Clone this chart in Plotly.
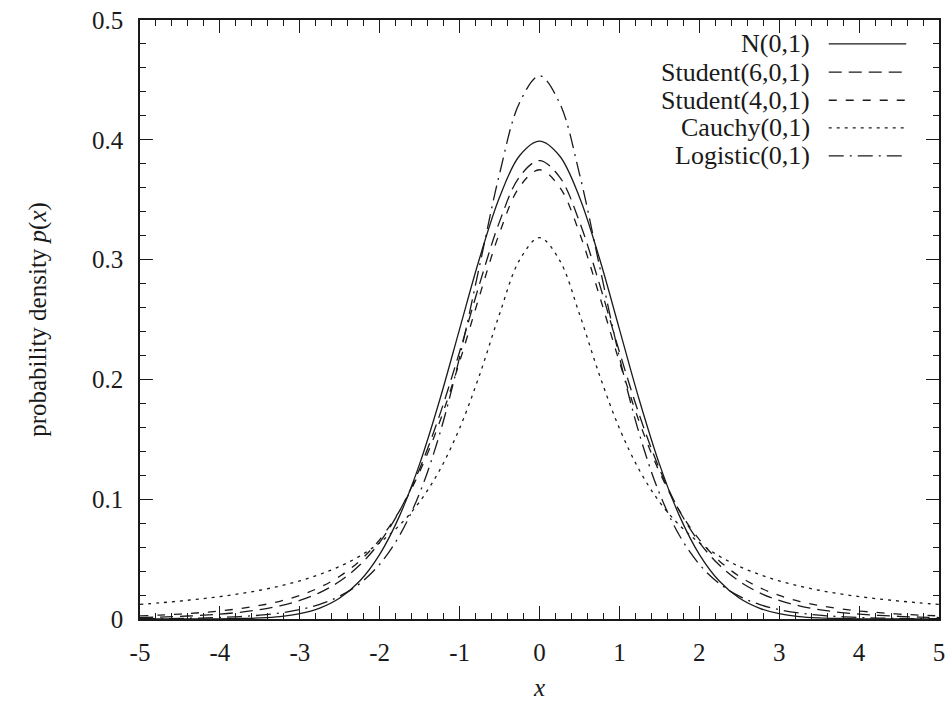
import plotly.graph_objects as go

x = [-5.0, -4.75, -4.5, -4.25, -4.0, -3.75, -3.5, -3.25, -3.0, -2.75, -2.5, -2.25, -2.0, -1.75, -1.5, -1.25, -1.0, -0.75, -0.5, -0.25,
     0.0, 0.25, 0.5, 0.75, 1.0, 1.25, 1.5, 1.75, 2.0, 2.25, 2.5, 2.75, 3.0, 3.25, 3.5, 3.75, 4.0, 4.25, 4.5, 4.75, 5.0]

normal = [0.0000, 0.0000, 0.0000, 0.0001, 0.0001, 0.0004, 0.0009, 0.0020, 0.0044, 0.0091, 0.0175, 0.0317, 0.0540, 0.0863, 0.1295, 0.1826, 0.2420, 0.3011, 0.3521, 0.3867,
          0.3989, 0.3867, 0.3521, 0.3011, 0.2420, 0.1826, 0.1295, 0.0863, 0.0540, 0.0317, 0.0175, 0.0091, 0.0044, 0.0020, 0.0009, 0.0004, 0.0001, 0.0001, 0.0000, 0.0000, 0.0000]

student6 = [0.0012, 0.0016, 0.0022, 0.0030, 0.0041, 0.0056, 0.0078, 0.0110, 0.0155, 0.0220, 0.0315, 0.0450, 0.0640, 0.0904, 0.1255, 0.1702, 0.2231, 0.2797, 0.3317, 0.3691,
            0.3827, 0.3691, 0.3317, 0.2797, 0.2231, 0.1702, 0.1255, 0.0904, 0.0640, 0.0450, 0.0315, 0.0220, 0.0155, 0.0110, 0.0078, 0.0056, 0.0041, 0.0030, 0.0022, 0.0016, 0.0012]

student4 = [0.0026, 0.0033, 0.0041, 0.0053, 0.0067, 0.0087, 0.0113, 0.0148, 0.0197, 0.0264, 0.0357, 0.0485, 0.0663, 0.0905, 0.1229, 0.1644, 0.2147, 0.2699, 0.3223, 0.3607,
            0.3750, 0.3607, 0.3223, 0.2699, 0.2147, 0.1644, 0.1229, 0.0905, 0.0663, 0.0485, 0.0357, 0.0264, 0.0197, 0.0148, 0.0113, 0.0087, 0.0067, 0.0053, 0.0041, 0.0033, 0.0026]

cauchy = [0.0122, 0.0135, 0.0150, 0.0167, 0.0187, 0.0211, 0.0240, 0.0275, 0.0318, 0.0372, 0.0439, 0.0525, 0.0637, 0.0784, 0.0979, 0.1242, 0.1592, 0.2037, 0.2546, 0.2996,
          0.3183, 0.2996, 0.2546, 0.2037, 0.1592, 0.1242, 0.0979, 0.0784, 0.0637, 0.0525, 0.0439, 0.0372, 0.0318, 0.0275, 0.0240, 0.0211, 0.0187, 0.0167, 0.0150, 0.0135, 0.0122]

logistic = [0.0002, 0.0003, 0.0005, 0.0008, 0.0013, 0.0020, 0.0032, 0.0050, 0.0078, 0.0122, 0.0191, 0.0296, 0.0457, 0.0699, 0.1051, 0.1543, 0.2186, 0.2949, 0.3716, 0.4309,
            0.4534, 0.4309, 0.3716, 0.2949, 0.2186, 0.1543, 0.1051, 0.0699, 0.0457, 0.0296, 0.0191, 0.0122, 0.0078, 0.0050, 0.0032, 0.0020, 0.0013, 0.0008, 0.0005, 0.0003, 0.0002]

series_names = ["N(0,1)", "Student(6,0,1)", "Student(4,0,1)", "Cauchy(0,1)", "Logistic(0,1)"]
series_values = [normal, student6, student4, cauchy, logistic]

x_tick_vals = [-5, -4, -3, -2, -1, 0, 1, 2, 3, 4, 5]
x_tick_text = ["-5", "-4", "-3", "-2", "-1", "0", "1", "2", "3", "4", "5"]
y_tick_vals = [0, 0.1, 0.2, 0.3, 0.4, 0.5]
y_tick_text = ["0", "0.1", "0.2", "0.3", "0.4", "0.5"]

dashes = ["solid", "13px,7px", "8px,9px", "3px,5px", "15px,6px,2px,6px"]
INK = "#1a1a1a"
FONT = "Liberation Serif, Times New Roman, serif"

fig = go.Figure()
for name, vals, d in zip(series_names, series_values, dashes):
    fig.add_trace(go.Scatter(x=x, y=vals, mode="lines", name=name,
                             line=dict(color=INK, width=1.3, dash=d, shape="spline", smoothing=1.0),
                             showlegend=False, hoverinfo="skip"))

# legend drawn manually (text right-aligned, sample to the right)
leg_y = [0.960, 0.913, 0.866, 0.820, 0.773]
for name, d, yy in zip(series_names, dashes, leg_y):
    fig.add_annotation(x=0.841, y=yy, xref="paper", yref="paper", text=name,
                       showarrow=False, xanchor="right", yanchor="middle",
                       font=dict(family=FONT, size=26, color=INK))
    fig.add_shape(type="line", xref="paper", yref="paper", x0=0.862, x1=0.959, y0=yy, y1=yy,
                  line=dict(color=INK, width=1.3, dash=d))

axis_common = dict(
    showgrid=False, zeroline=False, showline=True, linecolor=INK, linewidth=1.5,
    mirror="allticks", ticks="inside", ticklen=13, tickwidth=1.2, tickcolor=INK,
    tickfont=dict(family=FONT, size=25, color=INK), ticklabelstandoff=10,
    automargin=False,
)

fig.update_xaxes(range=[-5, 5], tickvals=x_tick_vals, ticktext=x_tick_text,
                 minor=dict(ticks="inside", ticklen=6, tickcolor=INK, dtick=0.2, tick0=0, showgrid=False),
                 title=dict(text="<i>x</i>", font=dict(family=FONT, size=25, color=INK), standoff=16),
                 **axis_common)
fig.update_yaxes(range=[0, 0.5], tickvals=y_tick_vals, ticktext=y_tick_text,
                 minor=dict(ticks="inside", ticklen=6, tickcolor=INK, dtick=0.02, tick0=0, showgrid=False),
                 title=dict(text="probability density <i>p</i>(<i>x</i>)", font=dict(family=FONT, size=25, color=INK), standoff=38),
                 **axis_common)

fig.update_layout(
    width=951, height=701,
    margin=dict(l=140, r=12, t=20, b=82),
    paper_bgcolor="white", plot_bgcolor="white",
    font=dict(family=FONT, color=INK),
)

fig.write_html("out.html", config={"displayModeBar": False},
               post_script="document.body.style.margin='0';document.body.style.overflow='hidden';")
